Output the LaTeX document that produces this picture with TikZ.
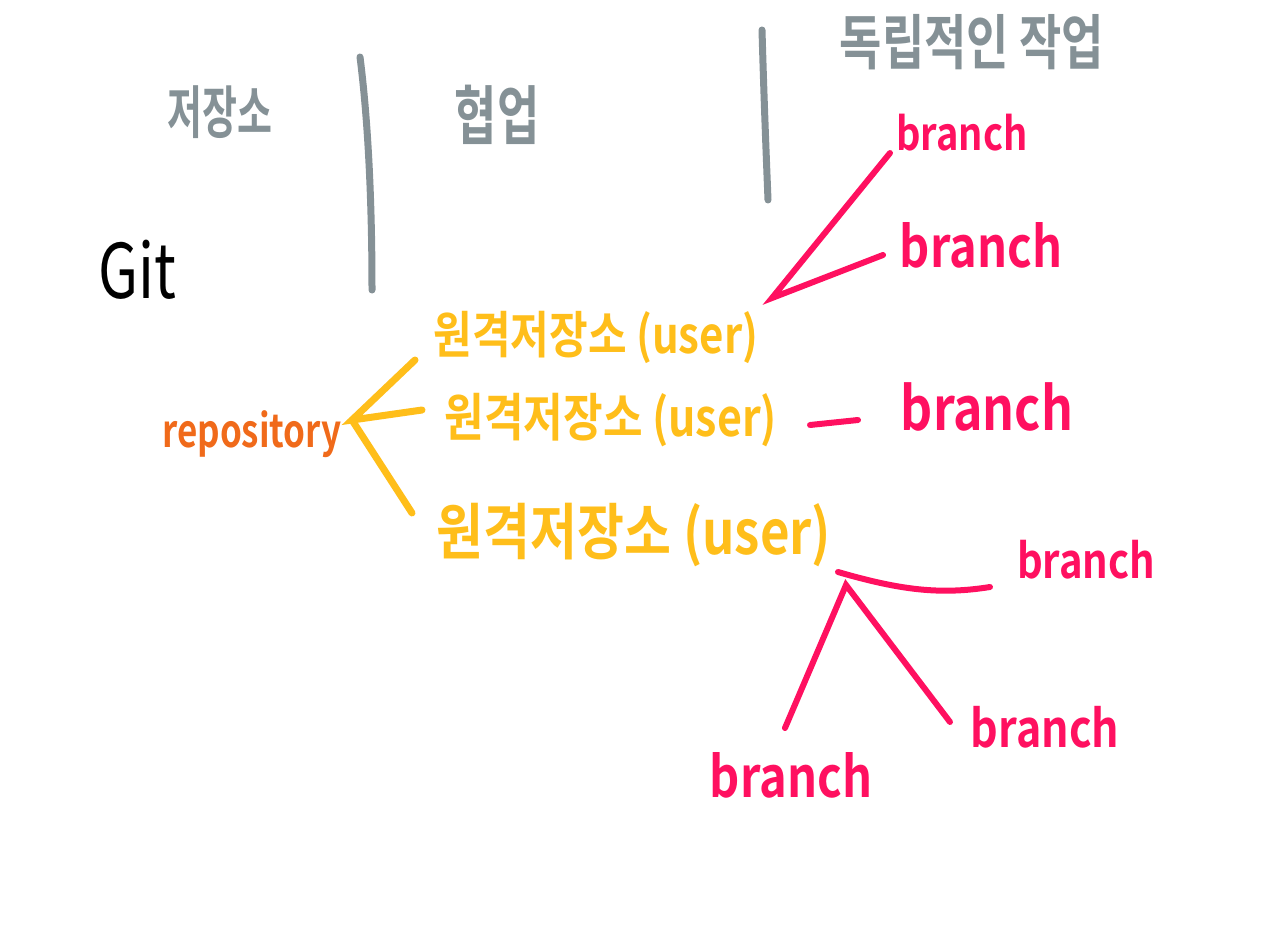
\documentclass[tikz,border=0pt]{standalone}
\usepackage{fontspec}
\usepackage{graphicx}
\setmainfont{Noto Sans CJK KR}[BoldFont={* Bold}]
\definecolor{hgray}{RGB}{133,145,150}
\definecolor{hyellow}{RGB}{255,190,26}
\definecolor{hpink}{RGB}{255,16,96}
\definecolor{horange}{RGB}{240,106,26}
\newcommand{\fs}[1]{\fontsize{#1}{#1}\selectfont}
\newcommand{\tall}[2]{\scalebox{1}[#1]{#2}}
\tikzset{
  head/.style={text=hgray, font=\bfseries, inner sep=0pt},
  remote/.style={text=hyellow, font=\bfseries, inner sep=0pt},
  br/.style={text=hpink, font=\bfseries, inner sep=0pt},
  divider/.style={draw=hgray, line width=7pt, line cap=round},
  yline/.style={draw=hyellow, line width=7pt, line cap=round},
  pline/.style={draw=hpink, line width=6pt, line cap=round},
}
\begin{document}
\begin{tikzpicture}[x=1pt,y=-1pt]
\useasboundingbox (0,0) rectangle (1278,947);
% headers
\node[head] (h1) at (220,112) {\tall{1.5}{\fs{38}저장소}};
\node[head] (h2) at (497,115) {\tall{1.4}{\fs{46}협업}};
\node[head] (h3) at (972,42) {\tall{1.3}{\fs{46}독립적인 작업}};
% dividers
\coordinate (d1a) at (360,57);
\coordinate (d1b) at (372,290);
\coordinate (d2a) at (762,30);
\coordinate (d2b) at (768,200);
\draw[divider] (d1a) .. controls (368,120) and (372,200) .. (d1b);
\draw[divider] (d2a) .. controls (764,100) and (766,150) .. (d2b);
% Git and repository
\node[inner sep=0pt] (git) at (137,270) {\tall{1.3}{\fs{58}Git}};
\node[text=horange, font=\bfseries, inner sep=0pt] (repo) at (252,434) {\tall{1.3}{\fs{35}repository}};
% remote repositories
\node[remote] (u1) at (596,337) {\tall{1.2}{\fs{42}원격저장소 (user)}};
\node[remote] (u2) at (611,420) {\tall{1.2}{\fs{43}원격저장소 (user)}};
\node[remote] (u3) at (634,535) {\tall{1.2}{\fs{51}원격저장소 (user)}};
\coordinate (tip) at (352,420);
\coordinate (u1e) at (415,360);
\coordinate (u2e) at (422,410);
\coordinate (u3e) at (412,513);
\draw[yline] (u1e) -- (tip) -- (u2e);
\draw[yline] (tip) -- (u3e);
% branches
\node[br] (b1) at (962,133) {\tall{1.2}{\fs{38}branch}};
\node[br] (b2) at (981,245) {\tall{1.2}{\fs{47}branch}};
\node[br] (b3) at (987,407) {\tall{1.2}{\fs{50}branch}};
\node[br] (b4) at (1086,560) {\tall{1.2}{\fs{40}branch}};
\node[br] (b5) at (1045,727) {\tall{1.2}{\fs{43}branch}};
\node[br] (b6) at (791,775) {\tall{1.2}{\fs{47}branch}};
\coordinate (p1) at (772,298);
\coordinate (b1e) at (890,153);
\coordinate (b2e) at (883,255);
\draw[pline] (b1e) -- (p1) -- (b2e);
\coordinate (m1) at (810,425);
\coordinate (m2) at (858,420);
\draw[pline] (m1) -- (m2);
\coordinate (p3) at (838,572);
\coordinate (b4e) at (990,587);
\coordinate (q) at (846,585);
\coordinate (b5e) at (950,722);
\coordinate (b6e) at (785,728);
\draw[pline] (p3) .. controls (900,590) and (940,595) .. (b4e);
\draw[pline] (b6e) -- (q) -- (b5e);
\end{tikzpicture}
\end{document}
